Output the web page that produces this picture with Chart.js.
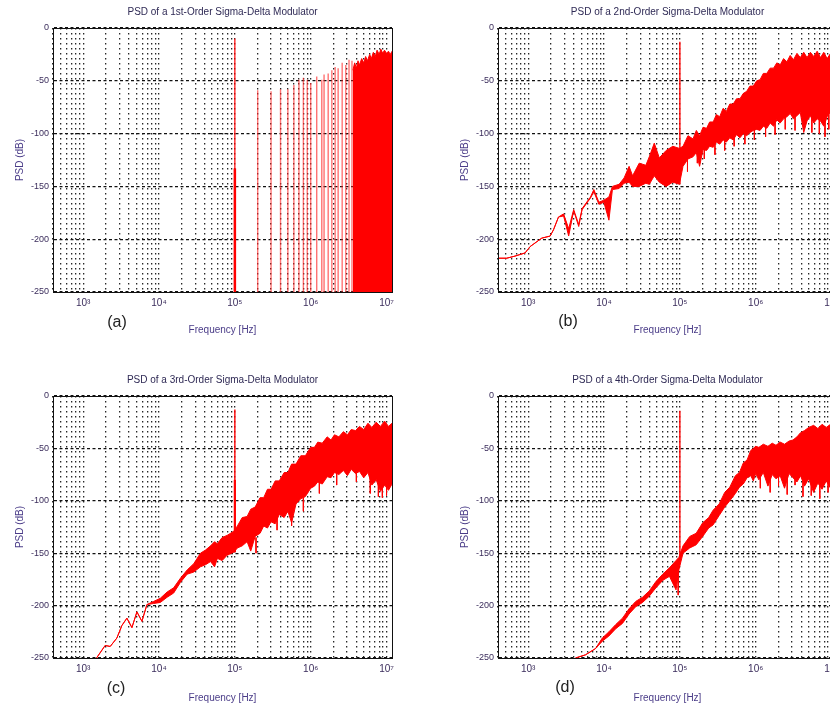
<!DOCTYPE html>
<html>
<head>
<meta charset="utf-8">
<script src="https://cdn.jsdelivr.net/npm/chart.js"></script>
<style>
  html, body { margin: 0; padding: 0; background: #fff; }
  body { position: relative; width: 830px; height: 708px; overflow: hidden; font-family: 'Liberation Sans', Arial, sans-serif; }
  canvas { position: absolute; }
  .tag { position: absolute; font-size: 16px; color: #222; transform: translate(-50%, -50%); }
</style>
</head>
<body>
<canvas id="psd1" width="415" height="354" style="left:0;top:0"></canvas>
<canvas id="psd2" width="415" height="354" style="left:445px;top:0"></canvas>
<canvas id="psd3" width="415" height="354" style="left:0;top:368px"></canvas>
<canvas id="psd4" width="415" height="354" style="left:445px;top:368px"></canvas>
<div class="tag" style="left:117px;top:322px">(a)</div>
<div class="tag" style="left:568px;top:321px">(b)</div>
<div class="tag" style="left:116px;top:688px">(c)</div>
<div class="tag" style="left:565px;top:687px">(d)</div>
<script>
// axis ranges
const fMin = 400;
const fMax = 11800000;
const dbMin = -250;
const dbMax = 0;
const decades = [1e3, 1e4, 1e5, 1e6, 1e7];
const decadeLabels = ['10³', '10⁴', '10⁵', '10⁶', '10⁷'];

const titles = [
  'PSD of a 1st-Order Sigma-Delta Modulator',
  'PSD of a 2nd-Order Sigma-Delta Modulator',
  'PSD of a 3rd-Order Sigma-Delta Modulator',
  'PSD of a 4th-Order Sigma-Delta Modulator'
];

// input tone
const toneFreq = 1e5;

// 1st order: idle tones (stems) then a solid noise block
const stemFreqA = [2e5, 3e5, 4e5, 5e5, 6e5, 7e5, 8e5, 9e5, 1.0e6, 1.2e6, 1.4e6, 1.5e6, 1.7e6, 1.9e6, 2.1e6, 2.3e6, 2.6e6, 2.9e6, 3.2e6, 3.5e6];
const stemTopA = [-59, -60, -58, -58, -54, -49, -47, -49, -52, -46, -49, -44, -43, -40, -37, -38, -33, -35, -30, -31];
const blockFreqA = [3.6e6, 3.8e6, 4.0e6, 4.2e6, 4.4e6, 4.7e6, 5.0e6, 5.3e6, 5.6e6, 6.0e6, 6.3e6, 6.7e6, 7.1e6, 7.5e6, 8.0e6, 8.4e6, 8.9e6, 9.4e6, 1.0e7, 1.06e7, 1.12e7, 1.18e7];
const blockTopA = [-40, -33, -38, -31, -35, -29, -33, -27, -31, -25, -29, -23, -27, -21, -25, -20, -24, -21, -24, -22, -25, -22];
const toneA = [-250, -10];
const toneBaseA = [-250, -133];

// 2nd order: upper / lower edge of the noise trace
const freqB = [400, 520, 670, 910, 1060, 1510, 1950, 2160, 2510, 2930, 3420, 3980, 4640, 5140, 6630, 7340, 8560, 9950, 11600, 12900,
  15800, 18400, 21400, 23800, 29100, 35600, 39500, 46000, 53600, 65800, 80700, 98600, 110000, 128000, 149000, 165000, 182000, 202000,
  225000, 247000, 275000, 303000, 335000, 372000, 410000, 455000, 505000, 558000, 620000, 685000, 760000, 840000, 930000, 1030000,
  1140000, 1260000, 1400000, 1550000, 1720000, 1900000, 2100000, 2330000, 2580000, 2850000, 3150000, 3500000, 3870000, 4300000,
  4750000, 5260000, 5830000, 6460000, 7150000, 7900000, 8750000, 9700000, 10700000, 11800000];
const hiB = [-218, -218, -216, -213, -207, -199, -197, -191, -179, -176, -190, -172, -186, -171, -160, -153, -165, -163, -160, -150,
  -148, -142, -131, -140, -128, -130, -122, -109, -123, -116, -112, -114, -112, -102, -105, -97, -102, -94,
  -95, -89, -89, -82, -84, -76, -79, -72, -72, -67, -67, -62, -60, -55, -55, -50,
  -49, -43, -43, -38, -38, -33, -35, -29, -32, -26, -30, -24, -28, -23,
  -28, -23, -27, -22, -28, -23, -29, -24, -29, -25];
const loB = [-218, -218, -216, -213, -207, -199, -197, -191, -179, -178, -197, -173, -188, -172, -161, -155, -167, -165, -182, -153,
  -152, -147, -146, -150, -150, -147, -148, -140, -146, -150, -146, -148, -131, -124, -122, -118, -131, -115,
  -116, -112, -113, -108, -110, -106, -108, -104, -106, -101, -104, -100, -102, -99, -97, -96,
  -97, -93, -95, -90, -93, -87, -90, -86, -84, -81, -86, -83, -80, -99,
  -88, -83, -90, -86, -88, -93, -84, -80, -84, -82];
const toneB = [-148, -13];
// isolated dips below the lower edge
const spikeFreqB = [126000, 170000, 210000, 290000, 390000, 520000, 720000, 960000, 1350000, 1800000, 2450000, 3300000, 5500000, 6900000, 8200000, 9200000, 11000000];
const spikeFromB = [-120, -115, -110, -105, -100, -98, -95, -92, -88, -85, -82, -80, -82, -84, -86, -82, -80];
const spikeToB = [-136, -128, -124, -120, -116, -112, -110, -106, -103, -101, -96, -97, -99, -100, -103, -96, -98];

// 3rd order
const freqC = [1500, 1950, 2270, 2780, 3240, 3770, 4390, 5110, 5950, 6930, 8490, 10400, 12800, 15600, 19100, 23500, 28700, 35200,
  41000, 47800, 54000, 58800, 68000, 79000, 97000, 108000, 125000, 145000, 162000, 185000, 215000, 240000, 269000, 300000, 340000,
  385000, 447000, 500000, 560000, 640000, 740000, 850000, 1000000, 1120000, 1240000, 1420000, 1650000, 1850000, 2060000, 2350000,
  2700000, 3050000, 3420000, 3900000, 4400000, 5000000, 5690000, 6400000, 7300000, 8300000, 9450000, 10600000, 11800000];
const hiC = [-250, -238, -239, -231, -219, -212, -221, -206, -215, -199, -196, -193, -187, -183, -174, -166, -160, -150,
  -147, -143, -139, -141, -135, -133, -129, -124, -116, -115, -108, -106, -97, -97, -89, -89, -81,
  -81, -73, -73, -65, -65, -57, -57, -49, -49, -44, -45, -39, -42, -37, -39,
  -34, -37, -32, -33, -29, -32, -26, -30, -25, -29, -24, -29, -26];
const loC = [-250, -238, -239, -231, -219, -212, -221, -206, -215, -199, -198, -197, -192, -188, -178, -170, -168, -163,
  -161, -158, -163, -155, -157, -152, -149, -145, -143, -139, -148, -134, -131, -124, -126, -120, -122,
  -113, -116, -110, -121, -103, -98, -96, -88, -86, -82, -84, -77, -78, -73, -75,
  -71, -76, -70, -74, -72, -78, -73, -85, -80, -91, -85, -90, -84];
const toneC = [-149, -13];
const toneBaseC = [-149, -80];
const spikeFreqC = [190000, 360000, 560000, 800000, 1300000, 2200000, 4000000, 6100000, 7800000, 8800000, 10000000];
const spikeFromC = [-135, -115, -108, -92, -80, -72, -70, -75, -80, -82, -84];
const spikeToC = [-150, -128, -124, -110, -93, -85, -82, -93, -96, -97, -95];

// 4th order
const freqD = [4200, 5690, 7730, 9480, 11600, 14300, 17500, 21400, 26200, 32200, 39500, 48400, 59400, 72800, 89000, 97000,
  110000, 135000, 164000, 200000, 240000, 274000, 330000, 390000, 455000, 540000, 610000, 685000, 770000, 860000, 930000,
  1000000, 1100000, 1260000, 1450000, 1650000, 1850000, 2100000, 2400000, 2750000, 3100000, 3500000, 3900000, 4400000,
  5000000, 5800000, 6600000, 7500000, 8500000, 9700000, 10700000, 11800000];
const hiD = [-250, -247, -241, -231, -225, -218, -212, -203, -196, -192, -186, -177, -170, -164, -157, -154,
  -143, -134, -131, -121, -116, -109, -103, -92, -87, -76, -73, -64, -61, -52, -50,
  -48, -49, -46, -48, -45, -47, -44, -46, -43, -42, -39, -35, -33,
  -30, -28, -31, -27, -30, -27, -30, -28];
const loD = [-250, -247, -241, -234, -229, -222, -217, -208, -201, -197, -191, -183, -176, -172, -185, -166,
  -150, -145, -142, -134, -126, -123, -114, -106, -100, -93, -87, -84, -78, -76, -81,
  -74, -80, -73, -86, -75, -79, -76, -88, -74, -78, -82, -76, -86,
  -79, -92, -83, -89, -81, -88, -80, -85];
const toneD = [-156, -14];
const spikeFreqD = [95000, 1150000, 1550000, 2000000, 2600000, 3300000, 4200000, 5400000, 7000000, 9000000];
const spikeFromD = [-165, -72, -75, -74, -76, -74, -80, -82, -84, -82];
const spikeToD = [-190, -88, -92, -86, -94, -85, -96, -95, -98, -92];

const RED = 'rgb(255,0,0)';
Chart.defaults.font.family = "'Liberation Sans', Arial, sans-serif";

// vertical grid at 1..9 x each decade inside the axis range
const gridFreqs = [];
for (let d = 100; d <= 1e7; d *= 10) {
  for (let m = 1; m <= 9; m++) {
    const v = m * d;
    if (v >= fMin && v <= fMax) gridFreqs.push(v);
  }
}

function pts(xs, ys) {
  return xs.map((x, i) => ({ x: x, y: ys[i] }));
}

function vline(f, ys) {
  return [{ x: f, y: ys[0] }, { x: f, y: ys[1] }];
}

// several vertical segments in one dataset, broken by null points
function segments(xs, from, to) {
  const out = [];
  xs.forEach((x, i) => {
    out.push({ x: x, y: from[i] }, { x: x, y: to[i] }, { x: x, y: null });
  });
  return out;
}

function bandSets(freqs, hi, lo, tone, spikes) {
  return [
    { data: pts(freqs, hi), borderColor: RED, borderWidth: 1, backgroundColor: RED, fill: '+1' },
    { data: pts(freqs, lo), borderColor: RED, borderWidth: 1, fill: false },
    { data: spikes, borderColor: RED, borderWidth: 1, fill: false, spanGaps: false },
    { data: vline(toneFreq, tone), borderColor: RED, borderWidth: 1.4, fill: false }
  ];
}

// box round the plot area
const frame = {
  id: 'frame',
  afterDraw(chart) {
    const { ctx, chartArea: a } = chart;
    ctx.save();
    ctx.strokeStyle = '#111';
    ctx.lineWidth = 1;
    ctx.strokeRect(Math.round(a.left) + 0.5, Math.round(a.top) + 0.5, Math.round(a.right - a.left), Math.round(a.bottom - a.top));
    ctx.restore();
  }
};

function psdChart(id, title, xBox, datasets) {
  return new Chart(document.getElementById(id), {
    type: 'line',
    data: { datasets: datasets },
    options: {
      responsive: false,
      animation: false,
      devicePixelRatio: 1,
      layout: { padding: { top: 0, right: 23, bottom: 0, left: 0 } },
      elements: { point: { radius: 0 }, line: { tension: 0 } },
      plugins: {
        legend: { display: false },
        tooltip: { enabled: false },
        title: {
          display: true,
          text: title,
          fullSize: false,
          color: '#2f2a55',
          font: { size: 10, weight: 'normal' },
          padding: { top: 6, bottom: 10 }
        }
      },
      scales: {
        x: {
          type: 'logarithmic',
          min: fMin,
          max: fMax,
          afterBuildTicks: s => { s.ticks = gridFreqs.map(v => ({ value: v })); },
          afterFit: s => { s.height = xBox; },
          ticks: {
            autoSkip: false,
            maxRotation: 0,
            padding: 5,
            color: '#3b2d5c',
            font: { size: 10 },
            callback: v => {
              const i = decades.indexOf(v);
              return i >= 0 ? decadeLabels[i] : '';
            }
          },
          grid: { color: 'rgba(0,0,0,0.85)', lineWidth: 1.3, drawTicks: false },
          border: { display: true, color: '#111', width: 1, dash: [1.6, 3.4] },
          title: {
            display: true,
            text: 'Frequency [Hz]',
            color: '#4a3c88',
            font: { size: 10 },
            padding: { top: 0, bottom: 18 }
          }
        },
        y: {
          min: dbMin,
          max: dbMax,
          afterFit: s => { s.width = 53; },
          ticks: { stepSize: 50, padding: 4, color: '#3b2d5c', font: { size: 9 } },
          grid: { color: '#111', lineWidth: 1.2, drawTicks: false },
          border: { display: true, color: '#111', width: 1, dash: [3, 2.5] },
          title: {
            display: true,
            text: 'PSD (dB)',
            color: '#4a3c88',
            font: { size: 10 },
            padding: { top: 14, bottom: 0 }
          }
        }
      }
    },
    plugins: [frame]
  });
}

psdChart('psd1', titles[0], 62, [
  { data: segments(stemFreqA, stemFreqA.map(() => dbMin), stemTopA), borderColor: 'rgba(255,40,40,0.65)', borderWidth: 1.4, fill: false, spanGaps: false },
  { data: pts(blockFreqA, blockTopA), borderColor: RED, borderWidth: 1, backgroundColor: RED, fill: 'start' },
  { data: vline(toneFreq, toneA), borderColor: RED, borderWidth: 1.2, fill: false },
  { data: vline(toneFreq, toneBaseA), borderColor: RED, borderWidth: 2.5, fill: false }
]);

psdChart('psd2', titles[1], 62, bandSets(freqB, hiB, loB, toneB, segments(spikeFreqB, spikeFromB, spikeToB)));

psdChart('psd3', titles[2], 64, bandSets(freqC, hiC, loC, toneC, segments(spikeFreqC, spikeFromC, spikeToC)).concat([
  { data: vline(toneFreq, toneBaseC), borderColor: RED, borderWidth: 2.2, fill: false }
]));

psdChart('psd4', titles[3], 64, bandSets(freqD, hiD, loD, toneD, segments(spikeFreqD, spikeFromD, spikeToD)));
</script>
</body>
</html>
